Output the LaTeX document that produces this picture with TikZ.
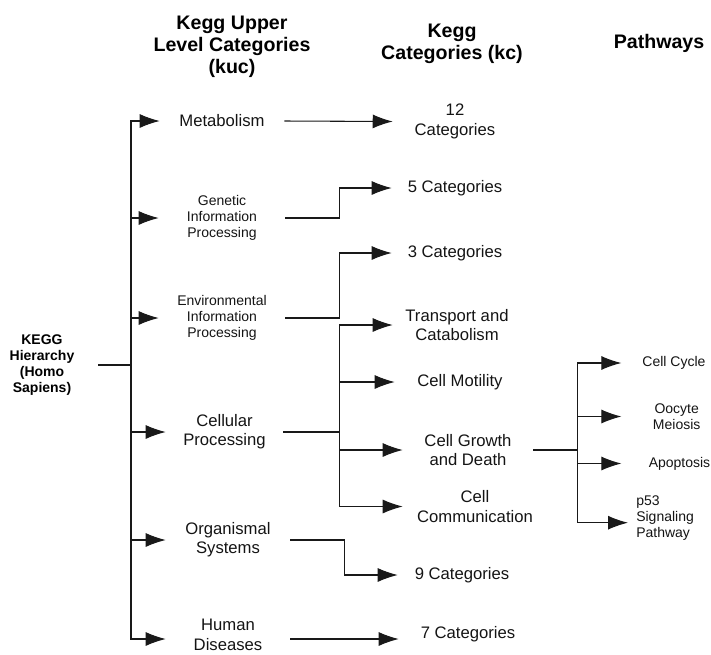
\documentclass[tikz,border=0pt]{standalone}
\usepackage{fontspec}
\setmainfont{Liberation Sans}
\usetikzlibrary{arrows.meta}
\tikzset{
  arr/.style={draw=black!90, line width=0.8pt, -{Latex[length=15pt,width=10.5pt]}},
  ttl/.style={font=\fontsize{14.7}{16.5}\selectfont\bfseries, align=center, inner sep=0pt},
  rootbox/.style={font=\fontsize{10.5}{12}\selectfont\bfseries, align=center, inner sep=0pt, minimum width=#1},
  midbox/.style={font=\fontsize{12.5}{14.5}\selectfont, align=center, inner sep=0pt, minimum width=#1, text=black!92},
  smlbox/.style={font=\fontsize{10.5}{12}\selectfont, align=center, inner sep=0pt, minimum width=#1, text=black!92},
}
\begin{document}
\begin{tikzpicture}[x=0.75pt,y=-0.75pt]
\useasboundingbox (0,0) rectangle (711,654);
% titles
\node[ttl] (t1) at (232,47) {Kegg Upper\\Level Categories\\(kuc)};
\node[ttl] (t2) at (452,44) {Kegg\\Categories (kc)};
\node[ttl] (t3) at (659,43) {Pathways};
% root
\node[rootbox=84pt] (root) at (42,365) {KEGG\\Hierarchy\\(Homo\\Sapiens)};
\coordinate (tr) at (131,365);
% kuc
\node[midbox=93pt] (met) at (222,121) {Metabolism};
\node[smlbox=94.5pt] (gen) at (222,218) {Genetic\\Information\\Processing};
\node[smlbox=94.5pt] (env) at (222,318) {Environmental\\Information\\Processing};
\node[midbox=87.75pt] (cel) at (224.5,432) {Cellular\\Processing};
\node[midbox=93pt] (org) at (228,540) {Organismal\\Systems};
\node[midbox=93pt] (hum) at (228,635) {Human\\Diseases};
% kc
\node[midbox=93pt] (c12) at (455,121.5) {12\\Categories};
\node[midbox=94.5pt] (c5) at (455,188) {5 Categories};
\node[midbox=94.5pt] (c3) at (455,253) {3 Categories};
\node[midbox=96pt] (tc) at (457,325) {Transport and\\Catabolism};
\node[midbox=97.5pt] (cm) at (460,382) {Cell Motility};
\node[midbox=97.5pt] (cg) at (468,450) {Cell Growth\\and Death};
\node[midbox=108pt] (cc) at (475,506.5) {Cell\\Communication};
\node[midbox=96pt] (c9) at (462,575) {9 Categories};
\node[midbox=103.5pt] (c7) at (468,634) {7 Categories};
% pathways
\node[smlbox=78.5pt] (cyc) at (674,363) {Cell Cycle};
\node[smlbox=82.5pt] (ooc) at (676.7,416.5) {Oocyte\\Meiosis};
\node[smlbox=86.7pt] (apo) at (679.5,463.5) {Apoptosis};
\node[font=\fontsize{10.5}{12}\selectfont, align=left, inner xsep=6pt, inner ysep=0pt, anchor=west, text=black!92] (p53) at (628,517.7) {p53\\Signaling\\Pathway};
% root -> kuc
\foreach \n in {met,gen,env,cel,org}
  \draw[arr] (root.east) -- (tr) |- (\n.west);
\draw[arr] (root.east) -- (tr) |- ([yshift=-3pt]hum.west);
% kuc -> kc
\draw[arr] (met.east) -- (c12.west);
\draw[arr] (gen.east) -- ++(54,0) |- (c5.west);
\draw[arr] (env.east) -- ++(54,0) |- (c3.west);
\foreach \n in {tc,cm,cg,cc}
  \draw[arr] (cel.east) -- ++(56,0) |- (\n.west);
\draw[arr] (org.east) -- ++(54,0) |- (c9.west);
\draw[arr] ([yshift=-3pt]hum.east) -- ([yshift=-3pt]hum.east -| c7.west);
% kc -> pathways
\foreach \n in {cyc,ooc,apo}
  \draw[arr] (cg.east) -- ++(44,0) |- (\n.west);
\draw[arr] (cg.east) -- ++(44,0) |- ([yshift=-3.75pt]p53.west);
\end{tikzpicture}
\end{document}
